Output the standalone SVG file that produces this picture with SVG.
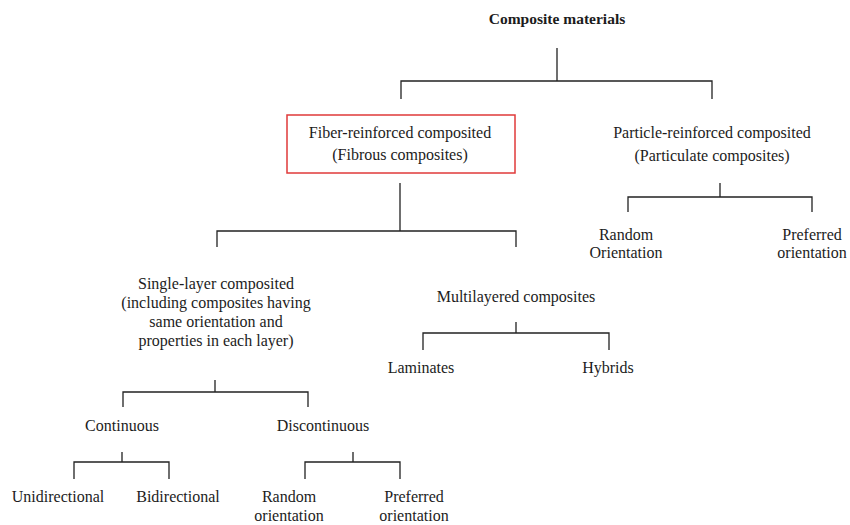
<svg xmlns="http://www.w3.org/2000/svg" width="850" height="525" viewBox="0 0 850 525">
<style>
text{font-family:"Liberation Serif","Times New Roman",serif;font-size:16px;fill:#1c1c1c;text-anchor:middle}
.b{font-weight:bold;font-size:15.5px}
.c path{fill:none;stroke:#222;stroke-width:1.3}
</style>
<rect width="850" height="525" fill="#fff"/>
<g class="c" id="connectors">
<path d="M557 48V81M401 99V81H712V99"/>
<path d="M400 183V231M217 247V231H516V247"/>
<path d="M720 183V197M628 212V197H812V212"/>
<path d="M215 380V392M123 407V392H308V407"/>
<path d="M516 322V333M423 350V333H609V350"/>
<path d="M122 452V462M74 479V462H169V479"/>
<path d="M353 452V462M305 479V462H400V479"/>
</g>
<g id="root"><text class="b" x="557" y="24">Composite materials</text></g>
<g id="fiber">
<rect x="287" y="115" width="228" height="58" fill="none" stroke="#e03a3a" stroke-width="1.5"/>
<text x="400" y="138">Fiber-reinforced composited</text>
<text x="400" y="160">(Fibrous composites)</text>
</g>
<g id="particle">
<text x="712" y="138">Particle-reinforced composited</text>
<text x="712" y="161">(Particulate composites)</text>
</g>
<g id="p-random"><text x="626" y="240">Random</text><text x="626" y="258">Orientation</text></g>
<g id="p-preferred"><text x="812" y="240">Preferred</text><text x="812" y="258">orientation</text></g>
<g id="single">
<text x="216" y="289">Single-layer composited</text>
<text x="216" y="308">(including composites having</text>
<text x="216" y="327">same orientation and</text>
<text x="216" y="346">properties in each layer)</text>
</g>
<g id="multi"><text x="516" y="302">Multilayered composites</text></g>
<g id="laminates"><text x="421" y="373">Laminates</text></g>
<g id="hybrids"><text x="608" y="373">Hybrids</text></g>
<g id="continuous"><text x="122" y="431">Continuous</text></g>
<g id="discontinuous"><text x="323" y="431">Discontinuous</text></g>
<g id="unidirectional"><text x="58" y="502">Unidirectional</text></g>
<g id="bidirectional"><text x="178" y="502">Bidirectional</text></g>
<g id="d-random"><text x="289" y="502">Random</text><text x="289" y="521">orientation</text></g>
<g id="d-preferred"><text x="414" y="502">Preferred</text><text x="414" y="521">orientation</text></g>
</svg>
